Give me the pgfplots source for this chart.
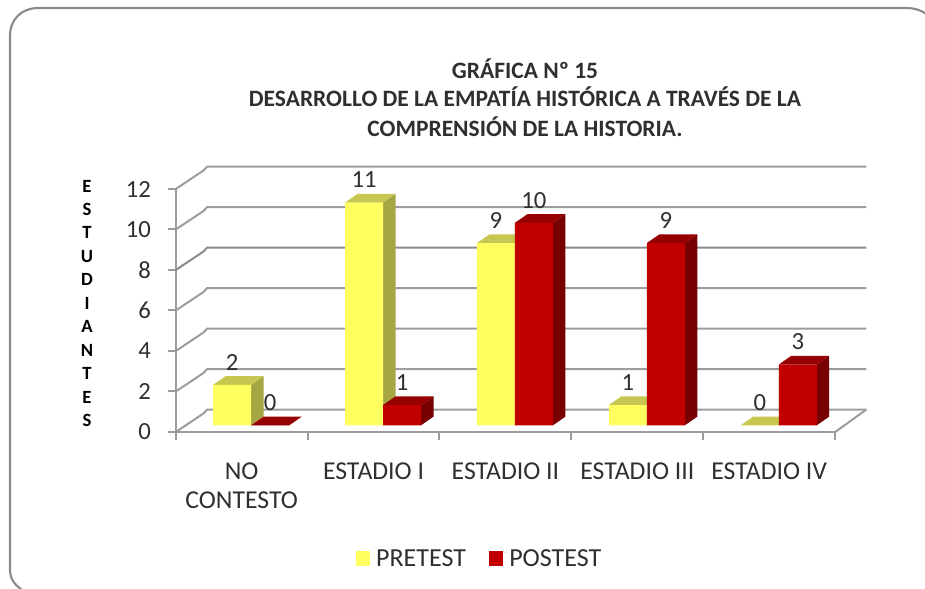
\documentclass[border=0pt]{standalone}
\usepackage{pgfplots}
\pgfplotsset{compat=1.18}
\usepackage{fontspec}
\setmainfont{Carlito}
\definecolor{gridc}{HTML}{9C9C9C}
\definecolor{gridd}{HTML}{8A8A8A}
\definecolor{framec}{HTML}{8A8A8A}
\definecolor{txt}{HTML}{2F2F2F}
\definecolor{yf}{HTML}{FFFF60}
\definecolor{yt}{HTML}{C6C650}
\definecolor{ys}{HTML}{A6A644}
\definecolor{rf}{HTML}{C00000}
\definecolor{rt}{HTML}{960000}
\definecolor{rs}{HTML}{780000}
% side and top of one bar: left edge x, value, top colour, side colour
\newcommand\depth[4]{%
  \pgfmathsetmacro\xa{#1}\pgfmathsetmacro\xb{#1+0.288}\pgfmathsetmacro\xc{#1+0.288+0.095}\pgfmathsetmacro\xd{#1+0.095}%
  \pgfmathsetmacro\ya{#2+0.33}\pgfmathsetmacro\yb{#2+0.33+0.43}\pgfmathsetmacro\yo{0.33}\pgfmathsetmacro\yp{0.33+0.43}%
  \addplot[forget plot,draw=none,fill=#4] coordinates {(\xb,\yo)(\xc,\yp)(\xc,\yb)(\xb,\ya)} --cycle;
  \addplot[forget plot,draw=none,fill=#3] coordinates {(\xa,\ya)(\xb,\ya)(\xc,\yb)(\xd,\yb)} --cycle;
}
% wall and back-wall line of one gridline value
\newcommand\gridl[2][gridc]{%
  \pgfmathsetmacro\ym{#2+0.904}\pgfmathsetmacro\yb{#2+1.11}%
  \addplot[forget plot,#1,line width=1.5pt] coordinates {(0,#2)(0.209,\ym)(0.239,\yb)(5.237,\yb)};
}
\begin{document}
\begin{tikzpicture}[x=0.75pt,y=0.75pt]
\path[use as bounding box] (0,0) rectangle (925,589);
\draw[framec,line width=1.6pt] (22,-1) .. controls (14,5) and (10,10) .. (10,20) -- (10,553) .. controls (10,570) and (22,581) .. (38,581) -- (905,581) .. controls (915,581) and (922,579) .. (930,572);
\begin{axis}[
  at={(131.775pt,117.75pt)},anchor=south west,
  scale only axis,width=494.6pt,height=182.25pt,
  xmin=0,xmax=5,ymin=0,ymax=12,
  clip=false,
  axis lines=left,axis line style={-,gridc,line width=1.5pt},
  tick align=outside,major tick length=6pt,
  tick style={gridc,line width=1.5pt},
  xtick={0,1,2,3,4,5},xticklabels={},
  ytick={0,2,4,6,8,10,12},
  /pgf/number format/assume math mode=true,
  yticklabel style={font=\fontsize{18.5}{18}\selectfont,text=txt,xshift=-9pt},
  extra x ticks={0.5,1.5,2.5,3.5,4.5},
  extra x tick labels={{NO\\[2pt]CONTESTO},{ESTADIO I},{ESTADIO II},{ESTADIO III},{ESTADIO IV}},
  extra x tick style={tick style={draw=none},major tick length=0pt,
    xticklabel style={font=\fontsize{19.3}{20}\selectfont,text=txt,align=center,anchor=north,yshift=-19.5pt}},
  legend style={at={(0.461,-0.523)},anchor=center,draw=none,fill=none,legend columns=2,
    font=\fontsize{19.5}{20}\selectfont,text=txt,
    /tikz/every even column/.style={column sep=15pt}},
  legend image code/.code={\fill[#1] (0pt,-10pt) rectangle (11pt,1pt);\path (0pt,0pt) -- (13.5pt,0pt);},
]
\gridl{0}\gridl{2}\gridl{4}\gridl{6}\gridl[gridd]{8}\gridl{10}\gridl{12}
\addplot[forget plot,gridc,line width=1.5pt] coordinates {(5,0)(5.237,1.11)};
% bars, yellow series
\depth{0.284}{2}{yt}{ys}
\depth{1.284}{11}{yt}{ys}
\depth{2.284}{9}{yt}{ys}
\depth{3.284}{1}{yt}{ys}
\depth{4.284}{0}{yt}{ys}
\addplot[ybar,bar width=28.5pt,bar shift=-7.1pt,draw=none,fill=yf,yshift=5pt,
  nodes near coords,every node near coord/.style={anchor=center,xshift=-7.1pt,yshift=17pt,font=\fontsize{18.5}{18}\selectfont,text=txt}]
  coordinates {(0.5,2)(1.5,11)(2.5,9)(3.5,1)(4.5,0)};
\addlegendentry{PRETEST}
% bars, red series
\depth{0.572}{0}{rt}{rs}
\depth{1.572}{1}{rt}{rs}
\depth{2.572}{10}{rt}{rs}
\depth{3.572}{9}{rt}{rs}
\depth{4.572}{3}{rt}{rs}
\addplot[ybar,bar width=28.5pt,bar shift=21.4pt,draw=none,fill=rf,yshift=5pt,
  nodes near coords,every node near coord/.style={anchor=center,xshift=21.4pt,yshift=17pt,font=\fontsize{18.5}{18}\selectfont,text=txt}]
  coordinates {(0.5,0)(1.5,1)(2.5,10)(3.5,9)(4.5,3)};
\addlegendentry{POSTEST}
\end{axis}
\node[font=\bfseries\fontsize{17.6}{18}\selectfont,text=txt] at (525,520) {GRÁFICA Nº 15};
\node[font=\bfseries\fontsize{17.6}{18}\selectfont,text=txt] at (525,492) {DESARROLLO DE LA EMPATÍA HISTÓRICA A TRAVÉS DE LA};
\node[font=\bfseries\fontsize{17.6}{18}\selectfont,text=txt] at (525,462) {COMPRENSIÓN DE LA HISTORIA.};
\foreach \l [count=\i from 0] in {E,S,T,U,D,I,A,N,T,E,S}
  \node[font=\bfseries\fontsize{14}{14}\selectfont,text=black] at (87,403-23.47*\i) {\l};
\end{tikzpicture}
\end{document}
